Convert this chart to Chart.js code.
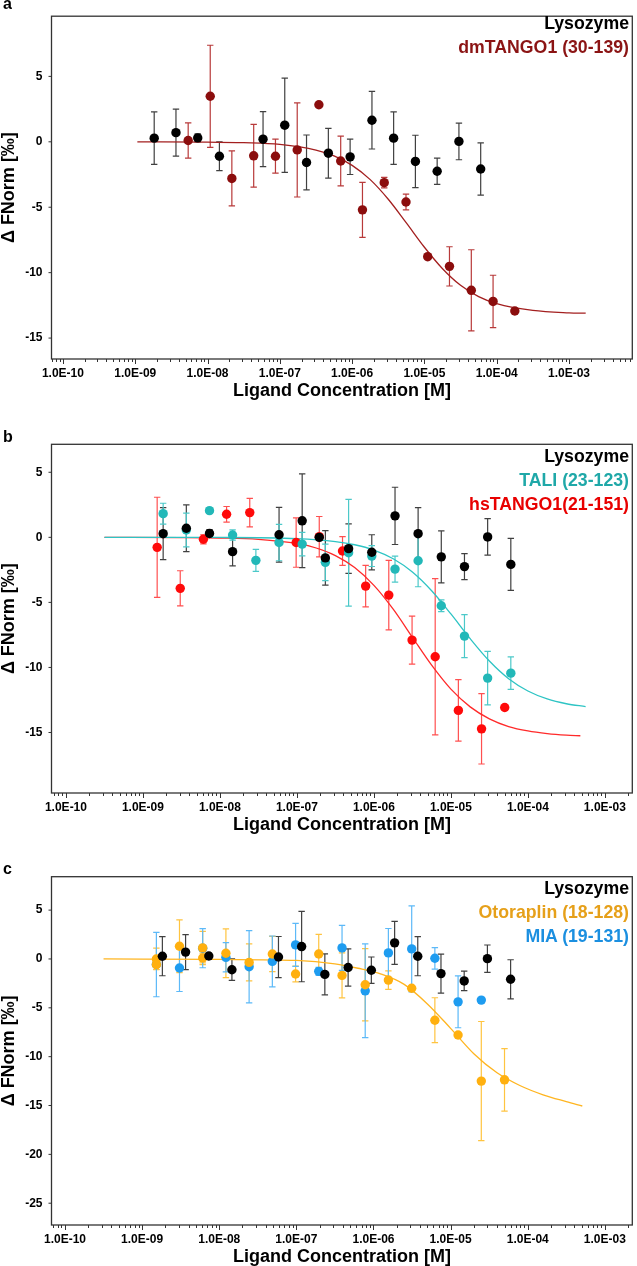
<!DOCTYPE html>
<html>
<head>
<meta charset="utf-8">
<script src="https://cdn.jsdelivr.net/npm/chart.js@4.4.1/dist/chart.umd.min.js"></script>
<style>
    body { margin: 0; background: #fff; width: 637px; height: 1266px; position: relative; overflow: hidden; font-family: "Liberation Sans", Arial, sans-serif; }
    .panel { position: absolute; left: 0; width: 637px; }
    .tag { position: absolute; left: 3px; font: bold 16px/16px "Liberation Sans", Arial, sans-serif; color: #000; }
    .legend { position: absolute; right: 8px; text-align: right; font: bold 17.7px/24px "Liberation Sans", Arial, sans-serif; white-space: nowrap; }
</style>
</head>
<body>
<div class="panel" style="top:0;height:400px"><canvas id="chartA"></canvas></div>
<div class="panel" style="top:400px;height:434px"><canvas id="chartB"></canvas></div>
<div class="panel" style="top:834px;height:432px"><canvas id="chartC"></canvas></div>

<div class="tag" style="top:-4px">a</div>
<div class="tag" style="top:429px">b</div>
<div class="tag" style="top:861px">c</div>

<div class="legend" style="top:11px">
    <div style="color:#000">Lysozyme</div>
    <div style="color:#8b1414">dmTANGO1 (30-139)</div>
</div>
<div class="legend" style="top:444px">
    <div style="color:#000">Lysozyme</div>
    <div style="color:#1fa8a8">TALI (23-123)</div>
    <div style="color:#e80000">hsTANGO1(21-151)</div>
</div>
<div class="legend" style="top:876px">
    <div style="color:#000">Lysozyme</div>
    <div style="color:#e6a01a">Otoraplin (18-128)</div>
    <div style="color:#1b8fe0">MIA (19-131)</div>
</div>

<script>
// axis ticks
const xTickVals = [1e-10, 1e-9, 1e-8, 1e-7, 1e-6, 1e-5, 1e-4, 1e-3];
const xTickLabels = ['1.0E-10', '1.0E-09', '1.0E-08', '1.0E-07', '1.0E-06', '1.0E-05', '1.0E-04', '1.0E-03'];
const yTicksA = [-15, -10, -5, 0, 5];
const yTicksB = [-15, -10, -5, 0, 5];
const yTicksC = [-25, -20, -15, -10, -5, 0, 5];

// Lysozyme (same in all panels)
const lysoConc = [1.83e-9, 3.66e-9, 7.32e-9, 1.46e-8, 5.86e-8, 1.17e-7, 2.34e-7, 4.69e-7, 9.38e-7, 1.88e-6, 3.75e-6, 7.5e-6, 1.5e-5, 3.0e-5, 6.0e-5];
const lysoVal = [0.28, 0.7, 0.3, -1.1, 0.2, 1.27, -1.58, -0.87, -1.15, 1.65, 0.28, -1.5, -2.25, 0.03, -2.08];
const lysoErr = [2.0, 1.8, 0.3, 1.1, 2.1, 3.6, 2.1, 1.9, 1.35, 2.2, 2.0, 2.0, 1.0, 1.4, 2.0];
// extra black point seen only in panel b
const lysoExtraConc = [1.95e-7];
const lysoExtraVal = [0.0];

// a: dmTANGO1
const dmConc = [5.4e-9, 1.09e-8, 2.17e-8, 4.35e-8, 8.7e-8, 1.74e-7, 3.47e-7, 6.95e-7, 1.39e-6, 2.78e-6, 5.56e-6, 1.11e-5, 2.22e-5, 4.45e-5, 8.9e-5, 1.78e-4];
const dmVal = [0.1, 3.48, -2.8, -1.07, -1.1, -0.62, 2.83, -1.47, -5.2, -3.12, -4.6, -8.78, -9.52, -11.35, -12.2, -12.93];
const dmErr = [1.35, 3.9, 2.1, 2.4, 1.3, 3.6, 0, 1.9, 2.1, 0.4, 0.6, 0, 1.5, 3.1, 2.0, 0];
const dmFitConc = [1.07e-9, 1e-8, 3.16e-8, 1e-7, 3.16e-7, 5.62e-7, 1e-6, 1.78e-6, 3.16e-6, 5.62e-6, 1e-5, 1.78e-5, 3.16e-5, 5.62e-5, 1e-4, 3.16e-4, 1e-3, 1.7e-3];
const dmFitVal = [0, -0.02, -0.07, -0.2, -0.63, -1.08, -1.8, -2.89, -4.39, -6.2, -8.06, -9.7, -10.97, -11.83, -12.37, -12.89, -13.07, -13.1];

// b: TALI and hsTANGO1
const taliConc = [1.83e-9, 3.66e-9, 7.32e-9, 1.46e-8, 2.93e-8, 5.86e-8, 1.17e-7, 2.34e-7, 4.69e-7, 9.38e-7, 1.88e-6, 3.75e-6, 7.5e-6, 1.5e-5, 3.0e-5, 6.0e-5];
const taliVal = [1.82, 0.56, 2.05, 0.18, -1.77, -0.4, -0.52, -1.92, -1.18, -1.44, -2.44, -1.8, -5.26, -7.59, -10.82, -10.44];
const taliErr = [0.8, 1.3, 0.2, 0.4, 0.85, 1.4, 0.9, 1.4, 4.1, 0.8, 1.0, 2.0, 0.45, 1.65, 2.05, 1.25];
const taliFitConc = [3.16e-10, 1e-8, 1e-7, 3.16e-7, 5.62e-7, 1e-6, 1.78e-6, 3.16e-6, 5.62e-6, 1e-5, 1.78e-5, 3.16e-5, 5.62e-5, 1e-4, 1.78e-4, 3.16e-4, 5.62e-4];
const taliFitVal = [0, -0.01, -0.1, -0.33, -0.57, -0.98, -1.65, -2.67, -4.11, -5.89, -7.79, -9.51, -10.87, -11.81, -12.42, -12.79, -13.01];

const hsConc = [1.53e-9, 3.05e-9, 6.1e-9, 1.22e-8, 2.44e-8, 9.77e-8, 1.95e-7, 3.91e-7, 7.81e-7, 1.56e-6, 3.13e-6, 6.25e-6, 1.25e-5, 2.5e-5, 5.0e-5];
const hsVal = [-0.77, -3.92, -0.15, 1.77, 1.9, -0.4, 0.05, -1.05, -3.75, -4.44, -7.9, -9.18, -13.3, -14.72, -13.08];
const hsErr = [3.85, 1.35, 0.35, 0.6, 1.1, 1.9, 1.55, 1.1, 1.6, 2.67, 1.85, 6.0, 2.36, 2.7, 0];
const hsFitConc = [3.16e-10, 3.16e-9, 1e-8, 3.16e-8, 1e-7, 1.78e-7, 3.16e-7, 5.62e-7, 1e-6, 1.78e-6, 3.16e-6, 5.62e-6, 1e-5, 1.78e-5, 3.16e-5, 5.62e-5, 1e-4, 1.78e-4, 3.16e-4, 4.8e-4];
const hsFitVal = [0, -0.015, -0.05, -0.15, -0.47, -0.82, -1.4, -2.32, -3.69, -5.52, -7.68, -9.83, -11.67, -13.03, -13.95, -14.54, -14.88, -15.08, -15.2, -15.25];

// c: Otoraplin and MIA
const otoConc = [1.53e-9, 1.53e-9, 3.05e-9, 6.1e-9, 6.1e-9, 1.22e-8, 2.44e-8, 4.88e-8, 9.77e-8, 1.95e-7, 3.91e-7, 7.81e-7, 1.56e-6, 3.13e-6, 6.25e-6, 1.25e-5, 2.5e-5, 5.0e-5];
const otoVal = [0.0, -0.58, 1.3, 1.13, 0.1, 0.58, -0.35, 0.51, -1.54, 0.51, -1.68, -2.64, -2.16, -3.0, -6.27, -7.78, -12.5, -12.37];
const otoErr = [1.1, 0.5, 2.7, 1.7, 0.5, 2.5, 1.9, 1.8, 0.8, 2.0, 2.3, 3.7, 0.95, 0, 2.3, 0, 6.1, 3.2];
const otoFitConc = [3.16e-10, 1e-8, 1e-7, 3.16e-7, 6.3e-7, 1.26e-6, 2.5e-6, 5e-6, 1e-5, 2e-5, 4e-5, 7.9e-5, 1.58e-4, 3.16e-4, 5.1e-4];
const otoFitVal = [0, -0.05, -0.15, -0.5, -0.95, -1.55, -2.6, -4.6, -7.1, -9.7, -11.65, -12.95, -13.9, -14.6, -15.05];

const miaConc = [1.53e-9, 3.05e-9, 6.1e-9, 1.22e-8, 2.44e-8, 4.88e-8, 9.77e-8, 1.95e-7, 3.91e-7, 7.81e-7, 1.56e-6, 3.13e-6, 6.25e-6, 1.25e-5, 2.5e-5];
const miaVal = [-0.57, -0.93, 1.1, 0.17, -0.79, -0.25, 1.44, -1.27, 1.13, -3.26, 0.62, 1.03, 0.07, -4.39, -4.21];
const miaErr = [3.3, 2.4, 2.0, 1.5, 3.7, 2.6, 2.2, 0.4, 2.3, 4.8, 2.5, 4.4, 1.1, 2.65, 0];

Chart.defaults.font.family = '"Liberation Sans", Arial, sans-serif';
Chart.defaults.color = '#000';

function pts(xs, ys) {
    return xs.map((x, i) => ({ x: x, y: ys[i] }));
}

function dots(xs, ys, errs, color, errColor) {
    return {
        data: pts(xs, ys),
        errors: errs,
        errorColor: errColor,
        backgroundColor: color,
        pointBackgroundColor: color,
        pointBorderWidth: 0,
        pointRadius: 4.7,
        showLine: false
    };
}

function fit(xs, ys, color) {
    return {
        data: pts(xs, ys),
        borderColor: color,
        borderWidth: 1.3,
        pointRadius: 0,
        showLine: true,
        cubicInterpolationMode: 'monotone'
    };
}

// error bars under the points
const errorBars = {
    id: 'errorBars',
    beforeDatasetsDraw(chart) {
        const { ctx, scales: { x, y } } = chart;
        ctx.save();
        ctx.lineWidth = 1.2;
        chart.data.datasets.forEach(ds => {
            if (!ds.errors) return;
            ctx.strokeStyle = ds.errorColor;
            ds.data.forEach((p, i) => {
                const e = ds.errors[i];
                if (!e) return;
                const px = x.getPixelForValue(p.x);
                const top = y.getPixelForValue(p.y + e);
                const bot = y.getPixelForValue(p.y - e);
                ctx.beginPath();
                ctx.moveTo(px, top); ctx.lineTo(px, bot);
                ctx.moveTo(px - 3.2, top); ctx.lineTo(px + 3.2, top);
                ctx.moveTo(px - 3.2, bot); ctx.lineTo(px + 3.2, bot);
                ctx.stroke();
            });
        });
        ctx.restore();
    }
};

// box and log tick marks
const frame = {
    id: 'frame',
    afterDraw(chart) {
        const { ctx, chartArea: a, scales: { x, y } } = chart;
        ctx.save();
        ctx.strokeStyle = '#333';
        ctx.lineWidth = 1.3;
        ctx.strokeRect(a.left, a.top, a.right - a.left, a.bottom - a.top);
        ctx.beginPath();
        for (let e = -11; e <= -2; e++) {
            for (let m = 1; m < 10; m++) {
                const v = m * Math.pow(10, e);
                if (v < x.min || v > x.max) continue;
                const px = Math.round(x.getPixelForValue(v)) + 0.5;
                ctx.moveTo(px, a.bottom);
                ctx.lineTo(px, a.bottom + (m === 1 ? 5 : 3));
            }
        }
        y.ticks.forEach(t => {
            const py = y.getPixelForValue(t.value);
            ctx.moveTo(a.left - 3, py);
            ctx.lineTo(a.left, py);
        });
        ctx.lineWidth = 1;
        ctx.stroke();
        ctx.restore();
    }
};

function makeChart(id, datasets, xMin, xMax, yMin, yMax, yTicks, padTop) {
    return new Chart(document.getElementById(id), {
        type: 'scatter',
        data: { datasets: datasets },
        plugins: [errorBars, frame],
        options: {
            responsive: true,
            maintainAspectRatio: false,
            animation: false,
            layout: { padding: { top: padTop, right: 2.5, left: 0, bottom: 0 } },
            plugins: { legend: { display: false }, tooltip: { enabled: false } },
            scales: {
                x: {
                    type: 'logarithmic',
                    min: xMin,
                    max: xMax,
                    grid: { display: false, drawTicks: false },
                    border: { display: false },
                    afterBuildTicks: s => { s.ticks = xTickVals.map(v => ({ value: v })); },
                    afterFit: s => { s.height = 41; },
                    ticks: {
                        autoSkip: false,
                        maxRotation: 0,
                        padding: 7,
                        font: { size: 12, weight: 'bold' },
                        callback: v => xTickLabels[xTickVals.indexOf(v)]
                    },
                    title: {
                        display: true,
                        text: 'Ligand Concentration [M]',
                        font: { size: 18, weight: 'bold', lineHeight: 1 },
                        padding: 0
                    }
                },
                y: {
                    min: yMin,
                    max: yMax,
                    grid: { display: false, drawTicks: false },
                    border: { display: false },
                    afterBuildTicks: s => { s.ticks = yTicks.map(v => ({ value: v })); },
                    afterFit: s => { s.width = 51.5; },
                    ticks: { padding: 9, font: { size: 12, weight: 'bold' } },
                    title: {
                        display: true,
                        text: 'Δ FNorm [‰]',
                        font: { size: 18, weight: 'bold', lineHeight: 1 },
                        padding: 0
                    }
                }
            }
        }
    });
}

document.addEventListener('DOMContentLoaded', function() {
    // 1. dmTANGO1
    makeChart('chartA', [
        dots(lysoConc, lysoVal, lysoErr, '#000000', '#404040'),
        dots(dmConc, dmVal, dmErr, '#8b0d0d', '#b83a3a'),
        fit(dmFitConc, dmFitVal, '#a31f1f')
    ], 6.95e-11, 7.5e-3, -16.6, 9.6, yTicksA, 11);

    // 2. TALI / hsTANGO1
    makeChart('chartB', [
        dots(lysoConc, lysoVal, lysoErr, '#000000', '#404040'),
        dots(lysoExtraConc, lysoExtraVal, null, '#000000', '#404040'),
        dots(taliConc, taliVal, taliErr, '#22b8b8', '#4cc9c9'),
        dots(hsConc, hsVal, hsErr, '#ff0a0a', '#ff5050'),
        fit(taliFitConc, taliFitVal, '#2ec4c4'),
        fit(hsFitConc, hsFitVal, '#ff2a2a')
    ], 6.49e-11, 2.27e-3, -19.65, 7.15, yTicksB, 44.3);

    // 3. Otoraplin / MIA
    makeChart('chartC', [
        dots(lysoConc, lysoVal, lysoErr, '#000000', '#404040'),
        dots(otoConc, otoVal, otoErr, '#ffb00f', '#ffc440'),
        dots(miaConc, miaVal, miaErr, '#1e9cf0', '#5cb9f8'),
        fit(otoFitConc, otoFitVal, '#ffb520')
    ], 6.68e-11, 2.27e-3, -27.23, 8.42, yTicksC, 42.7);
});
</script>
</body>
</html>
